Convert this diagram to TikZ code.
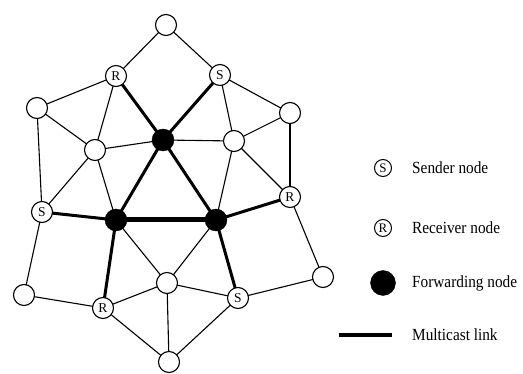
\documentclass[tikz,border=0pt]{standalone}
\usepackage{fontspec}
\setmainfont{Liberation Serif}
\usetikzlibrary{backgrounds}
\newcommand{\lgfont}[1]{\scalebox{0.9}[1]{\fontsize{17}{17}\selectfont #1}}
\begin{document}
\begin{tikzpicture}[x=1pt,y=-1pt,
  plain/.style={circle,draw,line width=1.1pt,fill=white,minimum size=21pt,inner sep=0pt,font=\fontsize{13.5}{13.5}\selectfont},
  fwd/.style={circle,fill=black,draw=black,minimum size=22pt,inner sep=0pt},
  thinlink/.style={line width=1.1pt},
  mlink/.style={line width=3pt},
  mlinkbold/.style={line width=5pt},
  lgsym/.style={circle,draw,line width=1pt,minimum size=17pt,inner sep=0pt,font=\fontsize{13}{13}\selectfont},
  lgtext/.style={anchor=west,inner sep=0pt}]
\useasboundingbox (0,0) rectangle (523,374);
% network nodes
\node[plain] (top) at (166,25) {};
\node[plain] (rtl) at (116,76) {R};
\node[plain] (str) at (220,75) {S};
\node[plain] (lft) at (37,108) {};
\node[plain] (rgt) at (290,113) {};
\node[plain] (il) at (95,150) {};
\node[plain] (ir) at (234,141) {};
\node[fwd] (f1) at (163,140) {};
\node[plain] (sl) at (42,212) {S};
\node[fwd] (f2) at (116,220) {};
\node[fwd] (f3) at (216,220) {};
\node[plain] (rr) at (290,197) {R};
\node[plain] (bl) at (24,295) {};
\node[plain] (rb) at (103,308) {R};
\node[plain] (cb) at (167,283) {};
\node[plain] (sb) at (238,298) {S};
\node[plain] (br) at (323,277) {};
\node[plain] (bot) at (169,362) {};
\begin{scope}[on background layer]
% ordinary links
\foreach \a/\b in {top/rtl,top/str,rtl/lft,rtl/il,str/rgt,str/ir,lft/il,lft/sl,rgt/ir,rgt/rr,
  il/f1,f1/ir,il/sl,il/f2,ir/f3,ir/rr,sl/bl,bl/rb,rr/br,br/sb,f2/cb,f3/cb,rb/cb,cb/sb,cb/bot,rb/bot,sb/bot}
  \draw[thinlink] (\a.center) -- (\b.center);
% multicast links
\foreach \a/\b in {rtl/f1,str/f1,f1/f2,f1/f3,sl/f2,f3/rr,f2/rb,f3/sb}
  \draw[mlink] (\a.center) -- (\b.center);
\draw[mlinkbold] (f2.center) -- (f3.center);
\end{scope}
% legend
\node[lgsym] (ls) at (383,168) {S};
\node[lgtext] (lst) at (412,168) {\lgfont{Sender node}};
\node[lgsym] (lr) at (383,228) {R};
\node[lgtext] (lrt) at (412,228) {\lgfont{Receiver node}};
\node[fwd,minimum size=25pt] (lf) at (383,283) {};
\node[lgtext] (lft2) at (412,283) {\lgfont{Forwarding node}};
\coordinate (la) at (339,335);
\coordinate (lb) at (392,335);
\draw[line width=4pt] (la) -- (lb);
\node[lgtext] (lmt) at (412,335) {\lgfont{Multicast link}};
\end{tikzpicture}
\end{document}
